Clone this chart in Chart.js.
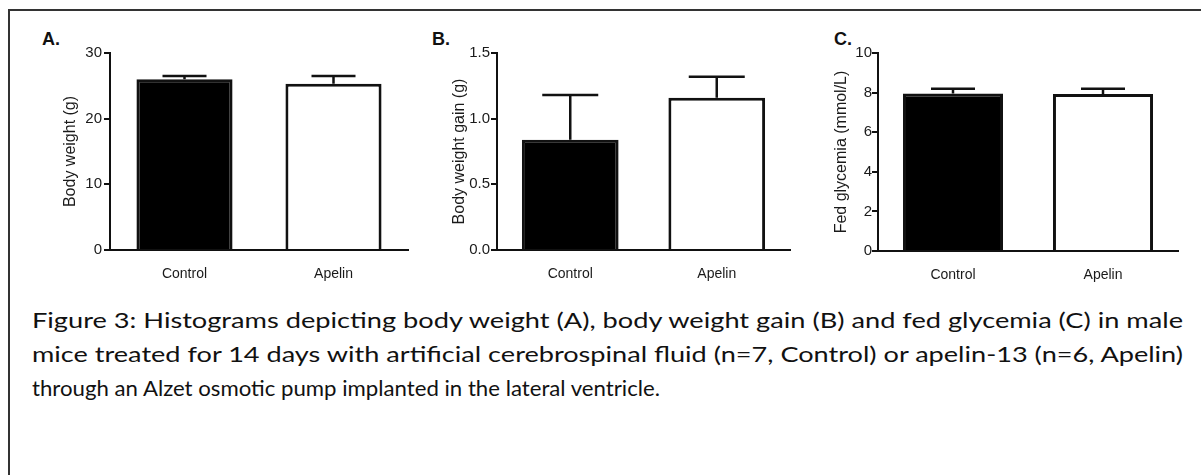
<!DOCTYPE html>
<html>
<head>
<meta charset="utf-8">
<script src="https://cdn.jsdelivr.net/npm/chart.js@4/dist/chart.umd.min.js"></script>
<style>
    html, body {
        margin: 0;
        padding: 0;
        background: #fff;
        width: 1201px;
        height: 475px;
        overflow: hidden;
        position: relative;
    }
    .frame {
        position: absolute;
        left: 8px;
        top: 9px;
        width: 1193px;
        height: 466px;
        border-top: 2px solid #333;
        border-left: 2px solid #333;
    }
    .panel {
        position: absolute;
    }
    .letter {
        position: absolute;
        font-family: "Liberation Sans", Arial, sans-serif;
        font-weight: bold;
        font-size: 18px;
        line-height: 1;
        color: #111;
    }
    .caption {
        position: absolute;
        left: 32px;
        font-family: Lato, "Open Sans", sans-serif;
        font-size: 22px;
        line-height: 1;
        color: #111;
        white-space: nowrap;
        transform-origin: 0 0;
    }
</style>
</head>
<body>
<div class="frame"></div>

<div class="letter" style="left:42px; top:30px;">A.</div>
<div class="letter" style="left:432px; top:30px;">B.</div>
<div class="letter" style="left:834px; top:30px;">C.</div>

<div class="panel" id="boxA"><canvas id="chartA"></canvas></div>
<div class="panel" id="boxB"><canvas id="chartB"></canvas></div>
<div class="panel" id="boxC"><canvas id="chartC"></canvas></div>

<div class="caption" style="top:309px;" data-w="1151">Figure 3: Histograms depicting body weight (A), body weight gain (B) and fed glycemia (C) in male</div>
<div class="caption" style="top:343px;" data-w="1151">mice treated for 14 days with artificial cerebrospinal fluid (n=7, Control) or apelin-13 (n=6, Apelin)</div>
<div class="caption" style="top:377px;" data-w="628">through an Alzet osmotic pump implanted in the lateral ventricle.</div>

<script>
// Data (mean and SEM)
const groups = ['Control', 'Apelin'];

const weightMean = [26.0, 25.3];
const weightSem = [0.5, 1.2];
const weightTicks = [0, 10, 20, 30];

const gainMean = [0.84, 1.16];
const gainSem = [0.34, 0.16];
const gainTicks = [0, 0.5, 1.0, 1.5];

const glycMean = [7.95, 7.93];
const glycSem = [0.25, 0.27];
const glycTicks = [0, 2, 4, 6, 8, 10];

const barFill = ['#000000', '#ffffff'];

// Draws the upper SEM whisker with a cap on each bar
const errorBars = {
    id: 'errorBars',
    afterDatasetsDraw(chart, args, opts) {
        const ds = chart.data.datasets[0];
        const meta = chart.getDatasetMeta(0);
        const yScale = chart.scales.y;
        const ctx = chart.ctx;
        ctx.save();
        ctx.strokeStyle = '#111';
        ctx.lineWidth = 2.5;
        meta.data.forEach((bar, i) => {
            const top = yScale.getPixelForValue(ds.data[i] + ds.errors[i]);
            ctx.beginPath();
            ctx.moveTo(bar.x, bar.y);
            ctx.lineTo(bar.x, top);
            ctx.moveTo(bar.x - opts.cap / 2, top);
            ctx.lineTo(bar.x + opts.cap / 2, top);
            ctx.stroke();
        });
        ctx.restore();
    }
};

function makePanel(boxId, canvasId, box, yTitle, means, sems, ticks, fmt) {
    const wrap = document.getElementById(boxId);
    wrap.style.left = box.left + 'px';
    wrap.style.top = box.top + 'px';
    const canvas = document.getElementById(canvasId);
    canvas.width = box.width;
    canvas.height = box.height;
    canvas.style.width = box.width + 'px';
    canvas.style.height = box.height + 'px';

    return new Chart(canvas, {
        type: 'bar',
        data: {
            labels: groups,
            datasets: [{
                data: means,
                errors: sems,
                backgroundColor: barFill,
                borderColor: '#111',
                borderWidth: 3,
                borderSkipped: 'start',
                categoryPercentage: 1,
                barPercentage: box.barPct
            }]
        },
        options: {
            responsive: false,
            animation: false,
            devicePixelRatio: 1,
            layout: {
                padding: {
                    left: 0,
                    top: box.axisTop - box.top,
                    right: box.left + box.width - box.axisRight,
                    bottom: 0
                }
            },
            scales: {
                x: {
                    offset: true,
                    grid: {display: false},
                    border: {display: true, color: '#111', width: 2},
                    ticks: {
                        color: '#1a1a1a',
                        padding: 8,
                        font: {family: 'Liberation Sans', size: 14}
                    },
                    afterFit: s => { s.height = box.top + box.height - box.axisBottom; }
                },
                y: {
                    min: ticks[0],
                    max: ticks[ticks.length - 1],
                    afterBuildTicks: s => { s.ticks = ticks.map(v => ({value: v})); },
                    grid: {
                        display: true,
                        drawOnChartArea: false,
                        drawTicks: true,
                        tickLength: 6,
                        lineWidth: 2,
                        color: '#111'
                    },
                    border: {display: true, color: '#111', width: 2},
                    ticks: {
                        color: '#1a1a1a',
                        padding: box.tickPad,
                        font: {family: 'Liberation Sans', size: 15},
                        callback: v => fmt(v)
                    },
                    title: {
                        display: true,
                        text: yTitle,
                        color: '#1a1a1a',
                        font: {family: 'Liberation Sans', size: 16},
                        padding: {top: box.titleX - box.left - 9.6, bottom: 0}
                    },
                    afterFit: s => { s.width = box.axisX - box.left; }
                }
            },
            plugins: {
                legend: {display: false},
                tooltip: {enabled: false},
                errorBars: {cap: box.cap}
            }
        },
        plugins: [errorBars]
    });
}

document.addEventListener('DOMContentLoaded', function () {
    makePanel('boxA', 'chartA',
        {left: 30, top: 20, width: 390, height: 270, axisX: 110, axisRight: 408,
         axisTop: 53, axisBottom: 250, titleX: 71, tickPad: 2, cap: 44, barPct: 0.645},
        'Body weight (g)', weightMean, weightSem, weightTicks, v => String(v));

    makePanel('boxB', 'chartB',
        {left: 440, top: 20, width: 360, height: 270, axisX: 497, axisRight: 790,
         axisTop: 53, axisBottom: 250, titleX: 460, tickPad: 1, cap: 56, barPct: 0.66},
        'Body weight gain (g)', gainMean, gainSem, gainTicks, v => v.toFixed(1));

    makePanel('boxC', 'chartC',
        {left: 815, top: 20, width: 375, height: 270, axisX: 878, axisRight: 1178,
         axisTop: 53, axisBottom: 251, titleX: 842, tickPad: 0, cap: 44, barPct: 0.667},
        'Fed glycemia (mmol/L)', glycMean, glycSem, glycTicks, v => String(v));

    // Fit each caption line to the width it has in the original
    document.querySelectorAll('.caption').forEach(el => {
        const w = el.getBoundingClientRect().width;
        el.style.transform = 'scaleX(' + (parseFloat(el.dataset.w) / w) + ')';
    });
});
</script>
</body>
</html>
